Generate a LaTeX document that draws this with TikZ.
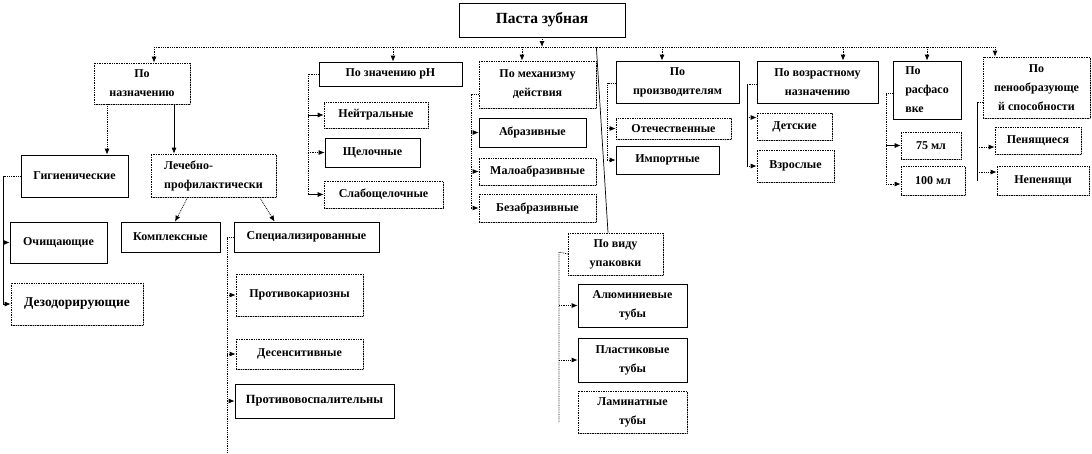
\documentclass[tikz,border=0pt]{standalone}
\usepackage{fontspec}
\setmainfont{Liberation Serif}
\usetikzlibrary{arrows.meta,shadows}

\begin{document}
\begin{tikzpicture}[x=1pt,y=-1pt,
        box/.style={draw=black, line width=0.7pt, fill=white, inner sep=0pt, align=center,
            font=\fontsize{12}{19}\selectfont\bfseries,
            general shadow={fill=gray!70, shadow xshift=1.2pt, shadow yshift=-1.2pt}},
        dbox/.style={box, densely dotted},
        link/.style={line width=0.8pt, densely dotted},
        slink/.style={line width=0.7pt},
        arr/.style={link, -{Latex[length=6pt,width=5pt]}},
        sarr/.style={slink, -{Latex[length=6pt,width=5pt]}}]
        \useasboundingbox (0,0) rectangle (1092,453);

        % root and first level
        \node (root) [box, minimum width=166, minimum height=34, font=\fontsize{15.5}{18}\selectfont\bfseries] at (542,20) {Паста зубная};
        \node (naz) [dbox, minimum width=96, minimum height=41] at (142,83.5) {По\\назначению};
        \node (ph) [box, minimum width=143, minimum height=24] at (390.5,74) {По значению pH};
        \node (meh) [dbox, minimum width=117, minimum height=47] at (537.5,84.5) {По механизму\\действия};
        \node (proizv) [box, minimum width=123, minimum height=42] at (677.5,82) {По\\производителям};
        \node (vozr) [box, minimum width=121, minimum height=42] at (817.5,82) {По возрастному\\назначению};
        \node (rasf) [box, minimum width=68, minimum height=58, align=left] at (927,90) {По\\расфасо\\вке};
        \node (pena) [dbox, minimum width=107, minimum height=61] at (1036.5,87.5) {По\\пенообразующе\\й способности};
        \node (upak) [dbox, minimum width=95, minimum height=42] at (615.5,254) {По виду\\упаковки};

        % po naznacheniyu
        \node (gig) [box, minimum width=107, minimum height=42] at (74.5,176) {Гигиенические};
        \node (lech) [dbox, minimum width=125, minimum height=43, align=left] at (213.5,175.5) {Лечебно-\\профилактически};
        \node (ochish) [box, minimum width=97, minimum height=41] at (58.5,242.5) {Очищающие};
        \node (dezod) [dbox, minimum width=132, minimum height=42, font=\fontsize{13.5}{19}\selectfont\bfseries] at (77,304) {Дезодорирующие};
        \node (kompl) [box, minimum width=99, minimum height=30] at (170.5,237) {Комплексные};
        \node (spec) [box, minimum width=145, minimum height=30] at (306.5,237) {Специализированные};
        \node (protkar) [dbox, minimum width=127, minimum height=42] at (299.5,295) {Противокариозны};
        \node (desens) [dbox, minimum width=127, minimum height=30] at (299.5,354) {Десенситивные};
        \node (protvos) [box, minimum width=159, minimum height=34, font=\fontsize{12.5}{19}\selectfont\bfseries] at (314.5,401) {Противовоспалительны};

        % pH, mechanism
        \node (neutr) [dbox, minimum width=104, minimum height=26] at (376,115) {Нейтральные};
        \node (shchel) [box, minimum width=95, minimum height=29] at (372.5,152.5) {Щелочные};
        \node (slab) [dbox, minimum width=119, minimum height=27] at (383.5,194.5) {Слабощелочные};
        \node (abraz) [box, minimum width=107, minimum height=29] at (532.5,132.5) {Абразивные};
        \node (malo) [dbox, minimum width=117, minimum height=27] at (537.5,171.5) {Малоабразивные};
        \node (bez) [dbox, minimum width=117, minimum height=28] at (537.5,208) {Безабразивные};

        % makers, age, volume, foam
        \node (otech) [dbox, minimum width=115, minimum height=21] at (673.5,128.5) {Отечественные};
        \node (import) [box, minimum width=103, minimum height=28] at (667.5,160) {Импортные};
        \node (det) [dbox, minimum width=75, minimum height=27] at (794.5,126.5) {Детские};
        \node (vzr) [dbox, minimum width=77, minimum height=32] at (795.5,166) {Взрослые};
        \node (ml75) [dbox, minimum width=60, minimum height=27] at (931,145.5) {75 мл};
        \node (ml100) [dbox, minimum width=64, minimum height=29] at (933,180.5) {100 мл};
        \node (pen) [dbox, minimum width=86, minimum height=27] at (1038,140.5) {Пенящиеся};
        \node (nepen) [dbox, minimum width=92, minimum height=29] at (1043,180.5) {Непенящи};

        % packing
        \node (alum) [box, minimum width=109, minimum height=43] at (632.5,305.5) {Алюминиевые\\тубы};
        \node (plast) [box, minimum width=109, minimum height=44] at (632.5,360) {Пластиковые\\тубы};
        \node (lamin) [dbox, minimum width=109, minimum height=42] at (632.5,412) {Ламинатные\\тубы};

        % bus from the root
        \coordinate (bus) at (543,47);
        \draw[arr] (root.south) -- (root.south |- bus);
        \draw[link] ([xshift=12]naz.north |- bus) -- ([xshift=-41.5]pena.north |- bus);
        \draw[arr] ([xshift=12]naz.north |- bus) -- ([xshift=12]naz.north);
        \draw[arr] ([xshift=2.5]ph.north |- bus) -- ([xshift=2.5]ph.north);
        \draw[arr] ([xshift=-15.5]meh.north |- bus) -- ([xshift=-15.5]meh.north);
        \draw[arr] ([xshift=-15.5]proizv.north |- bus) -- ([xshift=-15.5]proizv.north);
        \draw[arr] ([xshift=25.5]vozr.north |- bus) -- ([xshift=25.5]vozr.north);
        \draw[arr] (rasf.north |- bus) -- (rasf.north);
        \draw[arr] ([xshift=-41.5]pena.north |- bus) -- ([xshift=-41.5]pena.north);
        \draw[slink] (meh.east |- bus) -- ([xshift=-7.5]upak.north);

        % po naznacheniyu
        \draw[arr] ([xshift=-35]naz.south) -- ([xshift=-35]naz.south |- gig.north);
        \draw[sarr] ([xshift=32]naz.south) -- ([xshift=32]naz.south |- lech.north);
        \coordinate (gigS) at (3,176);
        \draw[link] (gig.west) -- (gigS);
        \draw[slink] (gigS) -- (gigS |- dezod.west);
        \draw[sarr] (gigS |- ochish.west) -- (ochish.west);
        \draw[sarr] (gigS |- dezod.west) -- (dezod.west);
        \draw[arr] ([xshift=37]lech.south west) -- ([xshift=4.5]kompl.north);
        \draw[arr] ([xshift=109]lech.south west) -- ([xshift=41]spec.north west);
        \coordinate (specS) at (227,237);
        \coordinate (specE) at (227,452);
        \draw[link] (spec.west) -- (specS) -- (specE);
        \draw[arr] (specS |- protkar.west) -- (protkar.west);
        \draw[arr] (specS |- desens.west) -- (desens.west);
        \draw[arr] (specS |- protvos.west) -- (protvos.west);

        % pH
        \coordinate (phS) at (308,74);
        \draw[link] (ph.west) -- (phS) -- (phS |- slab.west);
        \draw[sarr] (phS |- neutr.west) -- (neutr.west);
        \draw[arr] (phS |- shchel.west) -- (shchel.west);
        \draw[sarr] (phS |- slab.west) -- (slab.west);

        % mechanism
        \coordinate (mehS) at (471,94);
        \draw[link] (mehS -| meh.west) -- (mehS) -- (mehS |- bez.west);
        \draw[arr] (mehS |- abraz.west) -- (abraz.west);
        \draw[arr] (mehS |- malo.west) -- (malo.west);
        \draw[arr] (mehS |- bez.west) -- (bez.west);

        % makers
        \coordinate (proS) at (607,83);
        \draw[link] (proS -| proizv.west) -- (proS) -- (proS |- import.west);
        \draw[arr] (proS |- otech.west) -- (otech.west);
        \draw[arr] (proS |- import.west) -- (import.west);

        % age
        \coordinate (vozS) at (747,84);
        \draw[link] (vozS -| vozr.west) -- (vozS);
        \draw[slink] (vozS) -- (vozS |- vzr.west);
        \draw[arr] ([yshift=9]det.west -| vozS) -- ([yshift=9]det.west);
        \draw[arr] (vozS |- vzr.west) -- (vzr.west);

        % volume
        \coordinate (rasS) at (886,93);
        \draw[link] (rasS -| rasf.west) -- (rasS) -- ([yshift=-3.5]rasS |- ml100.west);
        \draw[sarr] (rasS |- ml75.west) -- (ml75.west);
        \draw[arr] ([yshift=-3.5]ml100.west -| rasS) -- ([yshift=-3.5]ml100.west);

        % foam
        \coordinate (penS) at (977,102);
        \draw[link] (penS -| pena.west) -- (penS);
        \draw[slink] (penS) -- (penS |- nepen.west);
        \draw[arr] ([yshift=-6.5]pen.west -| penS) -- ([yshift=-6.5]pen.west);
        \draw[arr] ([yshift=8.5]nepen.west -| penS) -- ([yshift=8.5]nepen.west);

        % packing
        \coordinate (upS) at (559,252);
        \coordinate (upE) at (559,422);
        \draw[link] (upak.west) -- (upS) -- (upE);
        \draw[arr] (upS |- alum.west) -- (alum.west);
        \draw[arr] (upS |- plast.west) -- (plast.west);
    \end{tikzpicture}
\end{document}
